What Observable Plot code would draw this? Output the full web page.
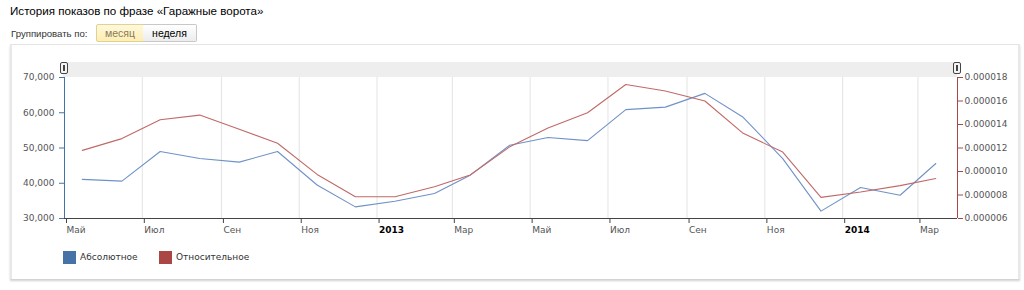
<!DOCTYPE html>
<html>
<head>
<meta charset="utf-8">
<script src="https://cdn.jsdelivr.net/npm/d3@7"></script>
<script src="https://cdn.jsdelivr.net/npm/@observablehq/plot@0.6"></script>
<style>
  html, body { margin: 0; padding: 0; background: #fff; width: 1024px; height: 290px; overflow: hidden; position: relative; font-family: "Liberation Sans", Arial, sans-serif; }
  .abs { position: absolute; }
  #title { left: 10px; top: 4px; font-size: 11.6px; color: #000; white-space: nowrap; }
  #group { left: 11px; top: 28px; font-size: 9.6px; color: #333; white-space: nowrap; }
  .btn { top: 24px; height: 16px; font-size: 10.5px; line-height: 16px; text-align: center; box-sizing: content-box; }
  #b1 { left: 96px; width: 46px; background: linear-gradient(#fff8dc, #fdeeb4); border: 1px solid #e2d08f; border-radius: 2px 0 0 2px; color: #8c7a55; }
  #b2 { left: 143px; width: 53px; background: linear-gradient(#ffffff, #ececec); border: 1px solid #c8c8c8; border-left: none; border-radius: 0 2px 2px 0; color: #000; }
  #panel { left: 10px; top: 44px; width: 1006px; height: 234px; border-left: 2px solid #e8e8e8; border-right: 2px solid #e8e8e8; border-top: 1px solid #e4e4e4; box-shadow: 0 2px 2px #d0d0d0; }
  #band { left: 63px; top: 62px; width: 894px; height: 15px; background: #eeeeee; }
  .handle { top: 62px; width: 6px; height: 10px; border: 1px solid #444; border-radius: 2px; background: #f4f4f4; }
  .handle::after { content: ""; position: absolute; left: 2px; top: 2px; width: 2px; height: 6px; border-left: 1px solid #444; border-right: 1px solid #444; box-sizing: border-box; }
  #chart { left: 0; top: 46px; }
  .leg { top: 251px; font-family: "DejaVu Sans", Verdana, sans-serif; font-size: 9px; color: #333; white-space: nowrap; line-height: 13px; }
  .sw { display: inline-block; width: 13px; height: 13px; vertical-align: top; margin-right: 4px; }
</style>
</head>
<body>
<div id="title" class="abs">История показов по фразе «Гаражные ворота»</div>
<div id="group" class="abs">Группировать по:</div>
<div id="b1" class="abs btn">месяц</div>
<div id="b2" class="abs btn">неделя</div>
<div id="panel" class="abs"></div>
<div id="band" class="abs"></div>
<div class="abs handle" style="left:60px"></div>
<div class="abs handle" style="left:953px"></div>
<div id="chart" class="abs"></div>
<div class="abs leg" style="left:63px"><span class="sw" style="background:#4572A7"></span>Абсолютное</div>
<div class="abs leg" style="left:159px"><span class="sw" style="background:#AA4643"></span>Относительное</div>
<script>
// ---- data ----
const months = ["2012-05","2012-06","2012-07","2012-08","2012-09","2012-10","2012-11","2012-12",
  "2013-01","2013-02","2013-03","2013-04","2013-05","2013-06","2013-07","2013-08","2013-09","2013-10","2013-11","2013-12",
  "2014-01","2014-02","2014-03"];
const absolute = [41100, 40600, 49000, 47000, 46000, 49000, 39500, 33300,
  34900, 37100, 42300, 50800, 53000, 52100, 60900, 61600, 65500, 58700, 47000, 32100,
  38800, 36600, 45600];
const relative = [0.0000118, 0.0000128, 0.0000144, 0.0000148, 0.0000136, 0.0000124, 0.00000975, 0.00000785,
  0.00000785, 0.0000087, 0.0000097, 0.0000121, 0.0000137, 0.0000150, 0.0000174, 0.00001685, 0.0000160, 0.00001325, 0.00001165, 0.0000078,
  0.00000825, 0.0000088, 0.0000094];
const leftTicks = [30000, 40000, 50000, 60000, 70000];
const rightTicks = [0.000006, 0.000008, 0.000010, 0.000012, 0.000014, 0.000016, 0.000018];
const monthTickDates = ["2012-05","2012-07","2012-09","2012-11","2013-03","2013-05","2013-07","2013-09","2013-11","2014-03"];
const monthTickLabels = ["Май","Июл","Сен","Ноя","Мар","Май","Июл","Сен","Ноя","Мар"];
const yearTickDates = ["2013-01","2014-01"];
const yearTickLabels = ["2013","2014"];
const xStart = "2012-05", xEnd = "2014-04";

// ---- build ----
const d = s => new Date(s + "-01T00:00:00Z");
const mid = s => new Date(s + "-15T00:00:00Z");
const yDom = [leftTicks[0], leftTicks[leftTicks.length - 1]];
const rDom = [rightTicks[0], rightTicks[rightTicks.length - 1]];
const toLeft = v => yDom[0] + (v - rDom[0]) / (rDom[1] - rDom[0]) * (yDom[1] - yDom[0]);
const fromLeft = v => rDom[0] + (v - yDom[0]) / (yDom[1] - yDom[0]) * (rDom[1] - rDom[0]);

const data = months.map((m, i) => ({date: mid(m), abs: absolute[i], rel: relative[i]}));
const mTicks = monthTickDates.map(d);
const yTicks = yearTickDates.map(d);
const allTicks = [...mTicks, ...yTicks];
const mLabel = new Map(mTicks.map((t, i) => [+t, monthTickLabels[i]]));
const yLabel = new Map(yTicks.map((t, i) => [+t, yearTickLabels[i]]));
const xDom = [d(xStart), d(xEnd)];

const chart = Plot.plot({
  width: 1024,
  height: 200,
  marginLeft: 64,
  marginRight: 67,
  marginTop: 31,
  marginBottom: 28,
  style: {fontFamily: "'DejaVu Sans', Verdana, sans-serif", fontSize: "9px", background: "transparent", overflow: "visible"},
  x: {type: "utc", domain: xDom, label: null},
  y: {domain: yDom, label: null},
  marks: [
    Plot.gridX(allTicks, {stroke: "#e3e3e3", strokeOpacity: 1, strokeWidth: 1}),
    Plot.axisX(mTicks, {tickFormat: t => mLabel.get(+t), textAnchor: "start", dx: 2, tickSize: 5, tickPadding: 3, stroke: "#444", fill: "#555", label: null}),
    Plot.axisX(yTicks, {tickFormat: t => yLabel.get(+t), textAnchor: "start", dx: 2, tickSize: 5, tickPadding: 3, stroke: "#444", fill: "#000", fontWeight: "bold", label: null}),
    Plot.ruleY([yDom[0]], {stroke: "#444", strokeWidth: 1}),
    Plot.axisY(leftTicks, {anchor: "left", tickSize: 5, tickPadding: 5, stroke: "#4572A7", fill: "#555", tickFormat: d3.format(","), label: null}),
    Plot.ruleX([xDom[0]], {stroke: "#4572A7", strokeWidth: 1}),
    Plot.axisY(rightTicks.map(toLeft), {anchor: "right", tickSize: 5, tickPadding: 2, stroke: "#AA4643", fill: "#555", tickFormat: v => fromLeft(v).toFixed(6), label: null}),
    Plot.ruleX([xDom[1]], {stroke: "#AA4643", strokeWidth: 1}),
    Plot.line(data, {x: "date", y: "abs", stroke: "#6f92c6", strokeWidth: 1.1}),
    Plot.line(data, {x: "date", y: r => toLeft(r.rel), stroke: "#c06a67", strokeWidth: 1.1})
  ]
});
document.getElementById("chart").appendChild(chart);
</script>
</body>
</html>
